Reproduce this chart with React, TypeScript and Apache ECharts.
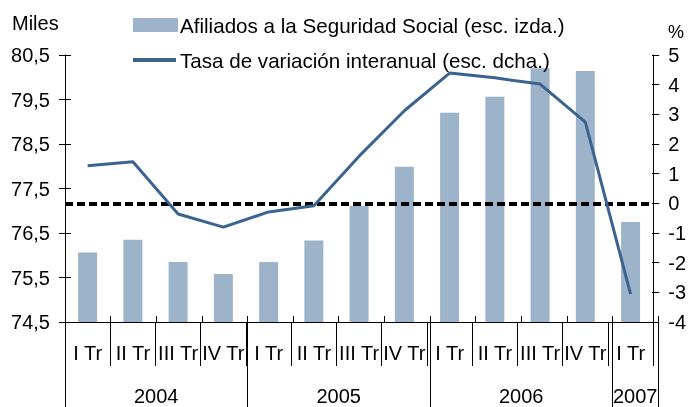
import React, { useEffect, useRef } from "react";
import * as echarts from "echarts";

const quarterLabels = ["I Tr", "II Tr", "III Tr", "IV Tr", "I Tr", "II Tr", "III Tr", "IV Tr", "I Tr", "II Tr", "III Tr", "IV Tr", "I Tr"];
const years = ["2004", "2005", "2006", "2007"];
const quartersPerYear = [4, 4, 4, 1];
const afiliados = [76.06, 76.35, 75.85, 75.58, 75.85, 76.33, 77.11, 77.99, 79.2, 79.56, 80.2, 80.14, 76.75];
const tasa = [1.27, 1.4, -0.36, -0.8, -0.29, -0.08, 1.59, 3.12, 4.39, 4.23, 4.02, 2.74, -3.06];
const leftMin = 74.5;
const leftMax = 80.5;
const rightMin = -4;
const rightMax = 5;
const zeroLine = 0;

const BAR_COLOR = "#9db3c9";
const LINE_COLOR = "#3b6390";
const FONT = "'Liberation Sans', Arial, Helvetica, sans-serif";

export default function App() {
  const ref = useRef<HTMLDivElement>(null);
  useEffect(() => {
    if (!ref.current) return;
    const chart = echarts.init(ref.current, undefined, { renderer: "svg" });

    const n = quarterLabels.length;
    const yearAxisData: string[] = new Array(2 * n + 1).fill("");
    const yearBoundaries: number[] = [];
    let s = 0;
    years.forEach((y, i) => {
      yearBoundaries.push(2 * s);
      yearAxisData[2 * s + quartersPerYear[i]] = y;
      s += quartersPerYear[i];
    });
    yearBoundaries.push(2 * s);

    const txt = { color: "#000", fontFamily: FONT, fontSize: 20 };
    const blackLine = { show: true, onZero: false, lineStyle: { color: "#000", width: 1 } };
    const noLine = { show: false, onZero: false };
    const gridRect = { left: 65, right: 31, top: 55, bottom: 85, containLabel: false };
    const tickStyle = { color: "#000", width: 1 };

    chart.setOption({
      animation: false,
      textStyle: { fontFamily: FONT },
      grid: [{ ...gridRect }, { ...gridRect }, { ...gridRect }],
      xAxis: [
        {
          gridIndex: 0,
          type: "category",
          data: quarterLabels,
          position: "bottom",
          axisLine: blackLine,
          axisTick: { show: true, interval: 0, length: 44, lineStyle: tickStyle },
          axisLabel: { interval: 0, margin: 21, ...txt },
          splitLine: { show: false },
        },
        {
          gridIndex: 1,
          type: "category",
          data: quarterLabels,
          position: "bottom",
          axisLine: noLine,
          axisTick: { show: true, interval: 0, inside: true, length: 6, lineStyle: tickStyle },
          axisLabel: { show: false },
          splitLine: { show: false },
        },
        {
          gridIndex: 2,
          type: "category",
          data: yearAxisData,
          boundaryGap: false,
          position: "bottom",
          axisLine: noLine,
          axisTick: {
            show: true,
            length: 85,
            interval: (idx: number) => yearBoundaries.includes(idx),
            lineStyle: tickStyle,
          },
          axisLabel: { interval: 0, margin: 64, ...txt },
          splitLine: { show: false },
        },
      ],
      yAxis: [
        {
          gridIndex: 0,
          type: "value",
          position: "left",
          min: 0,
          max: leftMax - leftMin,
          interval: 1,
          axisLine: blackLine,
          axisTick: { show: true, length: 6, lineStyle: tickStyle },
          axisLabel: {
            margin: 15,
            ...txt,
            formatter: (v: number) => (v + leftMin).toFixed(1).replace(".", ","),
          },
          splitLine: { show: false },
        },
        {
          gridIndex: 0,
          type: "value",
          position: "right",
          min: rightMin,
          max: rightMax,
          interval: 1,
          axisLine: blackLine,
          axisTick: { show: true, length: 6, lineStyle: tickStyle },
          axisLabel: { margin: 15, ...txt },
          splitLine: { show: false },
        },
        {
          gridIndex: 1,
          type: "value",
          position: "left",
          min: 0,
          max: leftMax - leftMin,
          interval: 1,
          axisLine: noLine,
          axisTick: { show: true, inside: true, length: 6, lineStyle: tickStyle },
          axisLabel: { show: false },
          splitLine: { show: false },
        },
        {
          gridIndex: 1,
          type: "value",
          position: "right",
          min: rightMin,
          max: rightMax,
          interval: 1,
          axisLine: noLine,
          axisTick: { show: true, inside: true, length: 6, lineStyle: tickStyle },
          axisLabel: { show: false },
          splitLine: { show: false },
        },
        {
          gridIndex: 2,
          type: "value",
          show: false,
          min: 0,
          max: 1,
        },
      ],
      series: [
        {
          name: "Afiliados a la Seguridad Social (esc. izda.)",
          type: "bar",
          xAxisIndex: 0,
          yAxisIndex: 0,
          data: afiliados.map((v) => +(v - leftMin).toFixed(3)),
          barWidth: 19,
          itemStyle: { color: BAR_COLOR },
          z: 1,
        },
        {
          name: "cero",
          type: "line",
          xAxisIndex: 0,
          yAxisIndex: 1,
          data: [],
          symbol: "none",
          z: 2,
          markLine: {
            silent: true,
            symbol: "none",
            label: { show: false },
            lineStyle: { color: "#000", width: 4, type: [8, 4] },
            data: [{ yAxis: zeroLine }],
            z: 2,
          },
        },
        {
          name: "Tasa de variación interanual (esc. dcha.)",
          type: "line",
          xAxisIndex: 0,
          yAxisIndex: 1,
          data: tasa,
          symbol: "none",
          lineStyle: { color: LINE_COLOR, width: 3 },
          z: 5,
        },
      ],
      graphic: [
        { type: "text", left: 12, top: 13, style: { text: "Miles", fill: "#000", font: `20px ${FONT}` } },
        { type: "text", left: 668, top: 23, style: { text: "%", fill: "#000", font: `18px ${FONT}` } },
        { type: "rect", shape: { x: 133, y: 18, width: 45, height: 14 }, style: { fill: BAR_COLOR } },
        {
          type: "text",
          x: 180,
          y: 25,
          style: { text: "Afiliados a la Seguridad Social (esc. izda.)", fill: "#000", font: `20.6px ${FONT}`, verticalAlign: "middle" },
        },
        { type: "rect", shape: { x: 133, y: 58, width: 43, height: 4 }, style: { fill: LINE_COLOR } },
        {
          type: "text",
          x: 180,
          y: 60,
          z: 10,
          style: { text: "Tasa de variación interanual (esc. dcha.)", fill: "#000", font: `20.6px ${FONT}`, verticalAlign: "middle" },
        },
      ],
    });
    return () => chart.dispose();
  }, []);
  return <div ref={ref} style={{ position: "fixed", left: 0, top: 0, width: 689, height: 407 }} />;
}
